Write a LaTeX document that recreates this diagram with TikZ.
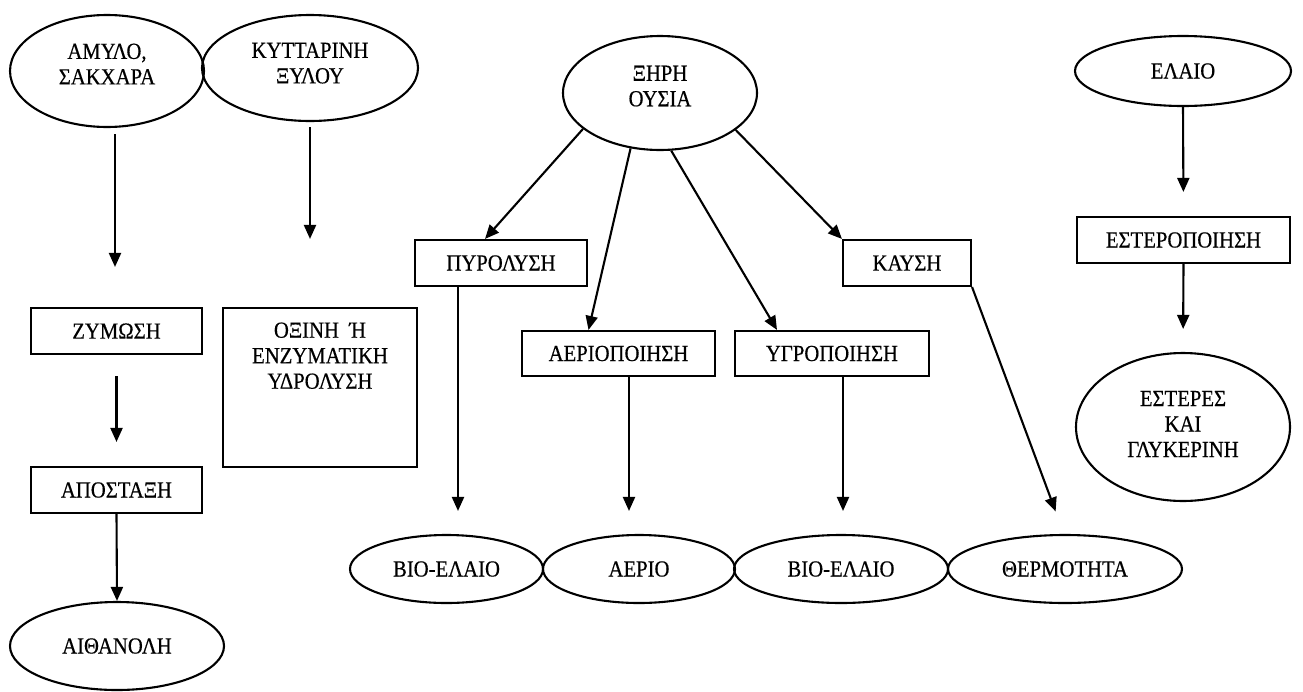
\documentclass[tikz,border=0pt]{standalone}
\usepackage{fontspec}
\setmainfont{Liberation Serif}[FakeStretch=0.9,FakeBold=0.4]
\usetikzlibrary{shapes.geometric,arrows.meta}
\tikzset{
  base/.style={draw=black, line width=2.1pt, inner sep=0pt, align=center,
    font=\fontsize{23}{25.5}\selectfont},
  oval/.style={base, ellipse},
  procbox/.style={base, rectangle},
  arr/.style={line width=2.1pt, -{Triangle[length=14pt,width=12pt]}},
}
\begin{document}
\begin{tikzpicture}[x=1pt,y=-1pt]
\useasboundingbox (0,0) rectangle (1303,691);
% left column
\node[oval, minimum width=194, minimum height=112, text depth=14pt] (amylo) at (107,71) {ΑΜΥΛΟ,\\ΣΑΚΧΑΡΑ};
\node[oval, minimum width=216, minimum height=106, text depth=10pt] (kyttarini) at (310,68) {ΚΥΤΤΑΡΙΝΗ\\ΞΥΛΟΥ};
\node[procbox, minimum width=171, minimum height=46] (zymosi) at (116.5,331) {ΖΥΜΩΣΗ};
\node[procbox, minimum width=171, minimum height=46] (apostaxi) at (116.5,490) {ΑΠΟΣΤΑΞΗ};
\node[oval, minimum width=214, minimum height=88] (aithanoli) at (117,646) {ΑΙΘΑΝΟΛΗ};
\node[procbox, minimum width=194, minimum height=159,
  label={[anchor=north, align=center, font=\fontsize{23}{25.5}\selectfont, yshift=-12pt]north:ΟΞΙΝΗ\ \ Ή\\ΕΝΖΥΜΑΤΙΚΗ\\ΥΔΡΟΛΥΣΗ}] (oxini) at (320,387.5) {};
% middle
\node[oval, minimum width=194, minimum height=114, text depth=14pt] (xiri) at (660,93) {ΞΗΡΗ\\ΟΥΣΙΑ};
\node[procbox, minimum width=172, minimum height=46] (pyrolysi) at (501,263) {ΠΥΡΟΛΥΣΗ};
\node[procbox, minimum width=193, minimum height=45] (aeriop) at (618.5,353.5) {ΑΕΡΙΟΠΟΙΗΣΗ};
\node[procbox, minimum width=194, minimum height=45] (ygrop) at (832,353.5) {ΥΓΡΟΠΟΙΗΣΗ};
\node[procbox, minimum width=128, minimum height=46] (kaysi) at (907,263) {ΚΑΥΣΗ};
\node[oval, minimum width=193, minimum height=68] (bio1) at (446.5,569) {ΒΙΟ-ΕΛΑΙΟ};
\node[oval, minimum width=192, minimum height=68] (aerio) at (639,569) {ΑΕΡΙΟ};
\node[oval, minimum width=214, minimum height=68] (bio2) at (841,569) {ΒΙΟ-ΕΛΑΙΟ};
\node[oval, minimum width=234, minimum height=68] (thermo) at (1065,569) {ΘΕΡΜΟΤΗΤΑ};
% right column
\node[oval, minimum width=216, minimum height=70] (elaio) at (1183,71) {ΕΛΑΙΟ};
\node[procbox, minimum width=213, minimum height=46] (esterop) at (1183.5,240) {ΕΣΤΕΡΟΠΟΙΗΣΗ};
\node[oval, minimum width=214, minimum height=148, text depth=6pt] (esteres) at (1183,427) {ΕΣΤΕΡΕΣ\\ΚΑΙ\\ΓΛΥΚΕΡΙΝΗ};
% connectors
\draw[arr, shorten <=6pt, shorten >=40pt] (amylo.south -| 115,0) -- (zymosi.north -| 115,0);
\draw[arr, shorten <=5pt, shorten >=68pt] (kyttarini.south) -- (kyttarini.south |- oxini.north);
\draw[arr, shorten <=21pt, shorten >=24pt] (zymosi.south) -- (apostaxi.north);
\draw[arr] (apostaxi.south) -- (aithanoli.north);
\draw[arr] (xiri.205) -- ([xshift=-16pt]pyrolysi.north);
\draw[arr] (xiri.242) -- ([xshift=-30pt]aeriop.north);
\draw[arr] (xiri.281) -- ([xshift=-55pt]ygrop.north);
\draw[arr] (xiri.334) -- (kaysi.north west);
\draw[arr, shorten >=23pt] (pyrolysi.south -| 458,0) -- (bio1.north -| 458,0);
\draw[arr, shorten >=23pt] (aeriop.south -| 629,0) -- (aerio.north -| 629,0);
\draw[arr, shorten >=23pt] (ygrop.south -| 843,0) -- (bio2.north -| 843,0);
\draw[arr, shorten >=24pt] (kaysi.south east) -- ([xshift=-1pt]thermo.north);
\draw[arr, shorten >=24pt] (elaio.south) -- (esterop.north);
\draw[arr, shorten >=23pt] (esterop.south) -- (esteres.north);
\end{tikzpicture}
\end{document}
